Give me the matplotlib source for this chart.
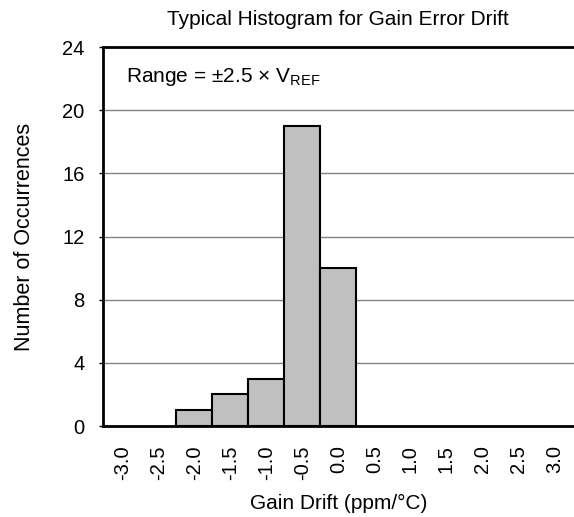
import numpy as np
from matplotlib import pyplot as plt

plt.rcParams['font.family'] = ['Liberation Sans', 'DejaVu Sans']
plt.rcParams['mathtext.fontset'] = 'custom'
plt.rcParams['mathtext.rm'] = 'Liberation Sans'

bins = [-3.0, -2.5, -2.0, -1.5, -1.0, -0.5, 0.0, 0.5, 1.0, 1.5, 2.0, 2.5, 3.0]
counts = [0, 0, 1, 2, 3, 19, 10, 0, 0, 0, 0, 0, 0]
tick_labels = ['-3.0', '-2.5', '-2.0', '-1.5', '-1.0', '-0.5', '0.0',
               '0.5', '1.0', '1.5', '2.0', '2.5', '3.0']
yticks = [0, 4, 8, 12, 16, 20, 24]

fig = plt.figure(figsize=(5.74, 5.17), dpi=100)
ax = fig.add_axes([0.179, 0.176, 0.821, 0.733])

ax.grid(axis='y', color='#808080', linewidth=1.0)
ax.set_axisbelow(True)

x = np.array(bins)
c = np.array(counts)
nz = c > 0
ax.bar(x[nz], c[nz], width=0.5, color='#c0c0c0', edgecolor='black', linewidth=1.5, zorder=3)

ax.set_xlim(-3.27, 3.27)
ax.set_ylim(0, 24)
ax.set_xticks(bins)
ax.set_xticklabels(tick_labels, rotation=90, fontsize=14.5)
ax.set_yticks(yticks)
ax.set_yticklabels([str(v) for v in yticks], fontsize=14.5)
ax.tick_params(axis='x', length=0, pad=14)
ax.tick_params(axis='y', length=3, width=1, pad=10)

for s in ['left', 'bottom', 'top']:
    ax.spines[s].set_linewidth(2)
ax.spines['right'].set_visible(False)

ax.text(0.05, 0.92, 'Range = ±2.5 × V$_{\\mathrm{REF}}$', transform=ax.transAxes,
        fontsize=15, va='center', ha='left')

ax.set_title('Typical Histogram for Gain Error Drift', fontsize=15, pad=16)
ax.set_xlabel('Gain Drift (ppm/°C)', fontsize=15, labelpad=10)
ax.set_ylabel('Number of Occurrences', fontsize=15.5, labelpad=20)

fig.savefig('out.png', dpi=100)
